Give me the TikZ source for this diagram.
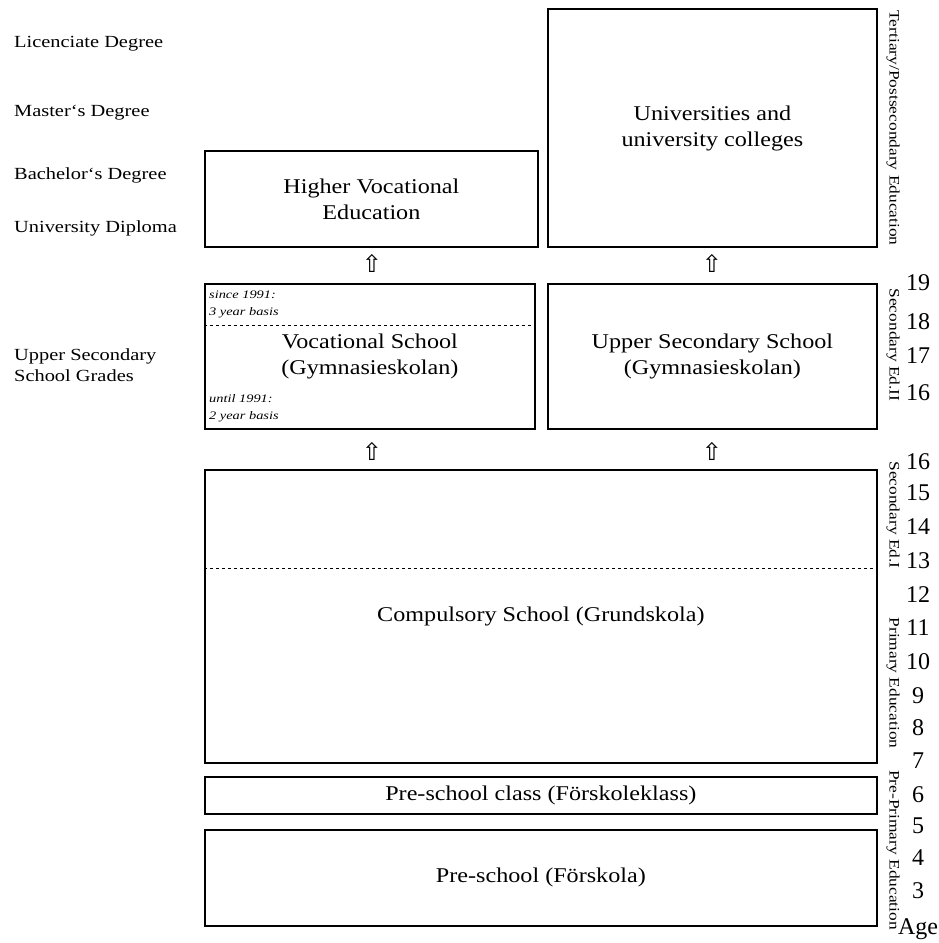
\documentclass[tikz,border=0pt]{standalone}
\usepackage{fontspec}
\setmainfont[FakeStretch=1.15]{Liberation Serif}
\newfontfamily\wideA[FakeStretch=1.2]{Liberation Serif}
\newfontfamily\wideB[FakeStretch=1.25]{Liberation Serif}
\newfontfamily\plainserif{Liberation Serif}
\newfontfamily\symfont{DejaVu Sans}
\begin{document}
\begin{tikzpicture}[x=1pt,y=-1pt,
  box/.style={draw, line width=1.8pt, inner sep=0pt, anchor=north west, align=center, font=\fontsize{21}{26}\selectfont},
  lefttxt/.style={anchor=west, align=left, inner sep=0pt, font=\wideA\fontsize{17}{21}\selectfont},
  agetxt/.style={anchor=center, inner sep=0pt, font=\plainserif\fontsize{24}{24}\selectfont},
  stagetxt/.style={rotate=-90, anchor=center, inner sep=0pt, font=\wideA\fontsize{14.5}{15}\selectfont},
  upar/.style={inner sep=0pt, font=\symfont\fontsize{24}{24}\selectfont},
  smalltxt/.style={anchor=north west, align=left, inner sep=0pt, font=\wideB\itshape\fontsize{11.5}{17}\selectfont},
  sep/.style={dashed, line width=0.8pt}]
\useasboundingbox (0,0) rectangle (939,943);

% boxes
\node[box, minimum width=333pt, minimum height=96pt] (hve) at (204,150) {Higher Vocational\\Education};
\node[box, minimum width=329pt, minimum height=238pt] (uni) at (547,8) {\raisebox{-4pt}{\begin{tabular}{@{}c@{}}Universities and\\university colleges\end{tabular}}};
\node[box, minimum width=330pt, minimum height=145pt] (voc) at (204,283) {Vocational School\\(Gymnasieskolan)};
\node[box, minimum width=329pt, minimum height=145pt] (uss) at (547,283) {Upper Secondary School\\(Gymnasieskolan)};
\node[box, minimum width=672pt, minimum height=293pt] (comp) at (204,469) {Compulsory School (Grundskola)};
\node[box, minimum width=672pt, minimum height=37pt] (psc) at (204,776) {Pre-school class (Förskoleklass)};
\node[box, minimum width=672pt, minimum height=96pt] (ps) at (204,829) {Pre-school (Förskola)};

% dashed separators
\coordinate (v1) at (204,325); \coordinate (v2) at (534,325);
\draw[sep] (v1) -- (v2);
\coordinate (c1) at (204,568); \coordinate (c2) at (876,568);
\draw[sep] (c1) -- (c2);

% small notes
\node[smalltxt] (since) at (209,291) {since 1991:\\3 year basis};
\node[smalltxt] (until) at (209,394) {until 1991:\\2 year basis};

% arrows
\node[upar] (a1) at (372,263) {⇧};
\node[upar] (a2) at (712,263) {⇧};
\node[upar] (a3) at (372,451) {⇧};
\node[upar] (a4) at (712,451) {⇧};

% left labels
\node[lefttxt] (lic) at (14,44) {Licenciate Degree};
\node[lefttxt] (mas) at (14,113) {Master‘s Degree};
\node[lefttxt] (bac) at (14,175) {Bachelor‘s Degree};
\node[lefttxt] (dip) at (14,228) {University Diploma};
\node[lefttxt] (usg) at (14,365) {Upper Secondary\\School Grades};

% stage labels
\node[stagetxt] (s1) at (893,128) {Tertiary/Postsecondary Education};
\node[stagetxt] (s2) at (893,345) {Secondary Ed.II};
\node[stagetxt] (s3) at (893,515) {Secondary Ed.I};
\node[stagetxt] (s4) at (893,683) {Primary Education};
\node[stagetxt] (s5) at (893,850) {Pre-Primary Education};

% ages
\node[agetxt] (g19) at (918,283) {19};
\node[agetxt] (g18) at (918,322) {18};
\node[agetxt] (g17) at (918,356) {17};
\node[agetxt] (g16b) at (918,393) {16};
\node[agetxt] (g16a) at (918,462) {16};
\node[agetxt] (g15) at (918,493) {15};
\node[agetxt] (g14) at (918,527) {14};
\node[agetxt] (g13) at (918,561) {13};
\node[agetxt] (g12) at (918,595) {12};
\node[agetxt] (g11) at (918,628) {11};
\node[agetxt] (g10) at (918,662) {10};
\node[agetxt] (g9) at (918,696) {9};
\node[agetxt] (g8) at (918,728) {8};
\node[agetxt] (g7) at (918,761) {7};
\node[agetxt] (g6) at (918,795) {6};
\node[agetxt] (g5) at (918,826) {5};
\node[agetxt] (g4) at (918,858) {4};
\node[agetxt] (g3) at (918,891) {3};
\node[agetxt] (age) at (918,929) {Age};
\end{tikzpicture}
\end{document}
